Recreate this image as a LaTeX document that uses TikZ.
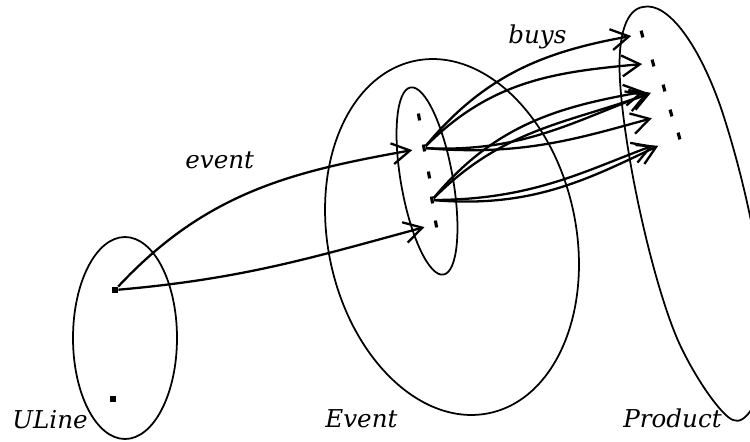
\documentclass[tikz,border=0pt]{standalone}
\usepackage{fontspec}
\setmainfont{DejaVu Serif}
\usetikzlibrary{arrows.meta}

\begin{document}
\begin{tikzpicture}[x=0.02cm, y=0.02cm,
    set/.style={line width=1pt},
    uelem/.style={rectangle, fill=black, inner sep=0pt, minimum size=3.5pt},
    elem/.style={rectangle, fill=black, inner sep=0pt, minimum width=1.8pt, minimum height=4pt},
    rel/.style={-{Straight Barb[length=3.6mm, width=4.2mm]}, line width=1.3pt},
    lbl/.style={font=\fontsize{14pt}{17pt}\selectfont\itshape, inner sep=0pt, anchor=base west}]
    \useasboundingbox (0,0) rectangle (750,441);

    \draw[set] (125,103) ellipse [x radius=52, y radius=101];
    \draw[set, rotate around={12:(452,204)}] (452,204) ellipse [x radius=124, y radius=180];
    \draw[set, rotate around={10:(427,260)}] (427,260) ellipse [x radius=26, y radius=95];
    \draw[set] (643,434) .. controls (668,440) and (700,395) .. (722,330)
        .. controls (745,260) and (770,150) .. (765,80)
        .. controls (762,40) and (745,15) .. (733,21)
        .. controls (722,25) and (697,60) .. (680,96)
        .. controls (655,150) and (625,280) .. (620,360)
        .. controls (617,410) and (628,432) .. cycle;

    \node[uelem] (u1) at (115,151) {};
    \node[uelem] (u2) at (113,42) {};
    \foreach \n/\x/\y in {1/419/324, 2/424/293, 3/429/266, 4/432/241, 5/436/217}
        \node[elem, rotate=10] (e\n) at (\x,\y) {};
    \foreach \n/\x/\y in {1/642/407, 2/653/378, 3/664/353, 4/671/328, 5/679/305}
        \node[elem, rotate=15] (p\n) at (\x,\y) {};

    \node[lbl] (ulinelbl) at (12,13) {ULine};
    \node[lbl] (eventlbl) at (325,14) {Event};
    \node[lbl] (productlbl) at (623,14) {Product};
    \node[lbl] (buyslbl) at (508,398) {buys};
    \node[lbl] (eventrel) at (185,273) {event};

    \draw[rel, shorten >=2mm] (u1) to[out=47, in=190] (e2);
    \draw[rel, shorten >=2mm] (u1) to[out=5, in=195] (e5);
    \draw[rel, shorten >=1.8mm] (e2) to[out=50, in=190] (p1);
    \draw[rel, shorten >=1.8mm] (e2) to[out=45, in=185] (p2);
    \draw[rel, shorten >=3.2mm] (e2) to[out=-3, in=200] (p3);
    \draw[rel, shorten >=3.6mm] (e2) to[out=-5, in=195] (p4);
    \draw[rel, shorten >=3.6mm] (e4) to[out=50, in=190] (p3);
    \draw[rel, shorten >=2.4mm] (e4) to[out=45, in=200] (p3);
    \draw[rel, shorten >=5.2mm] (e4) to[out=0, in=200] (p5);
    \draw[rel, shorten >=4.2mm] (e4) to[out=-5, in=205] (p5);
\end{tikzpicture}
\end{document}
